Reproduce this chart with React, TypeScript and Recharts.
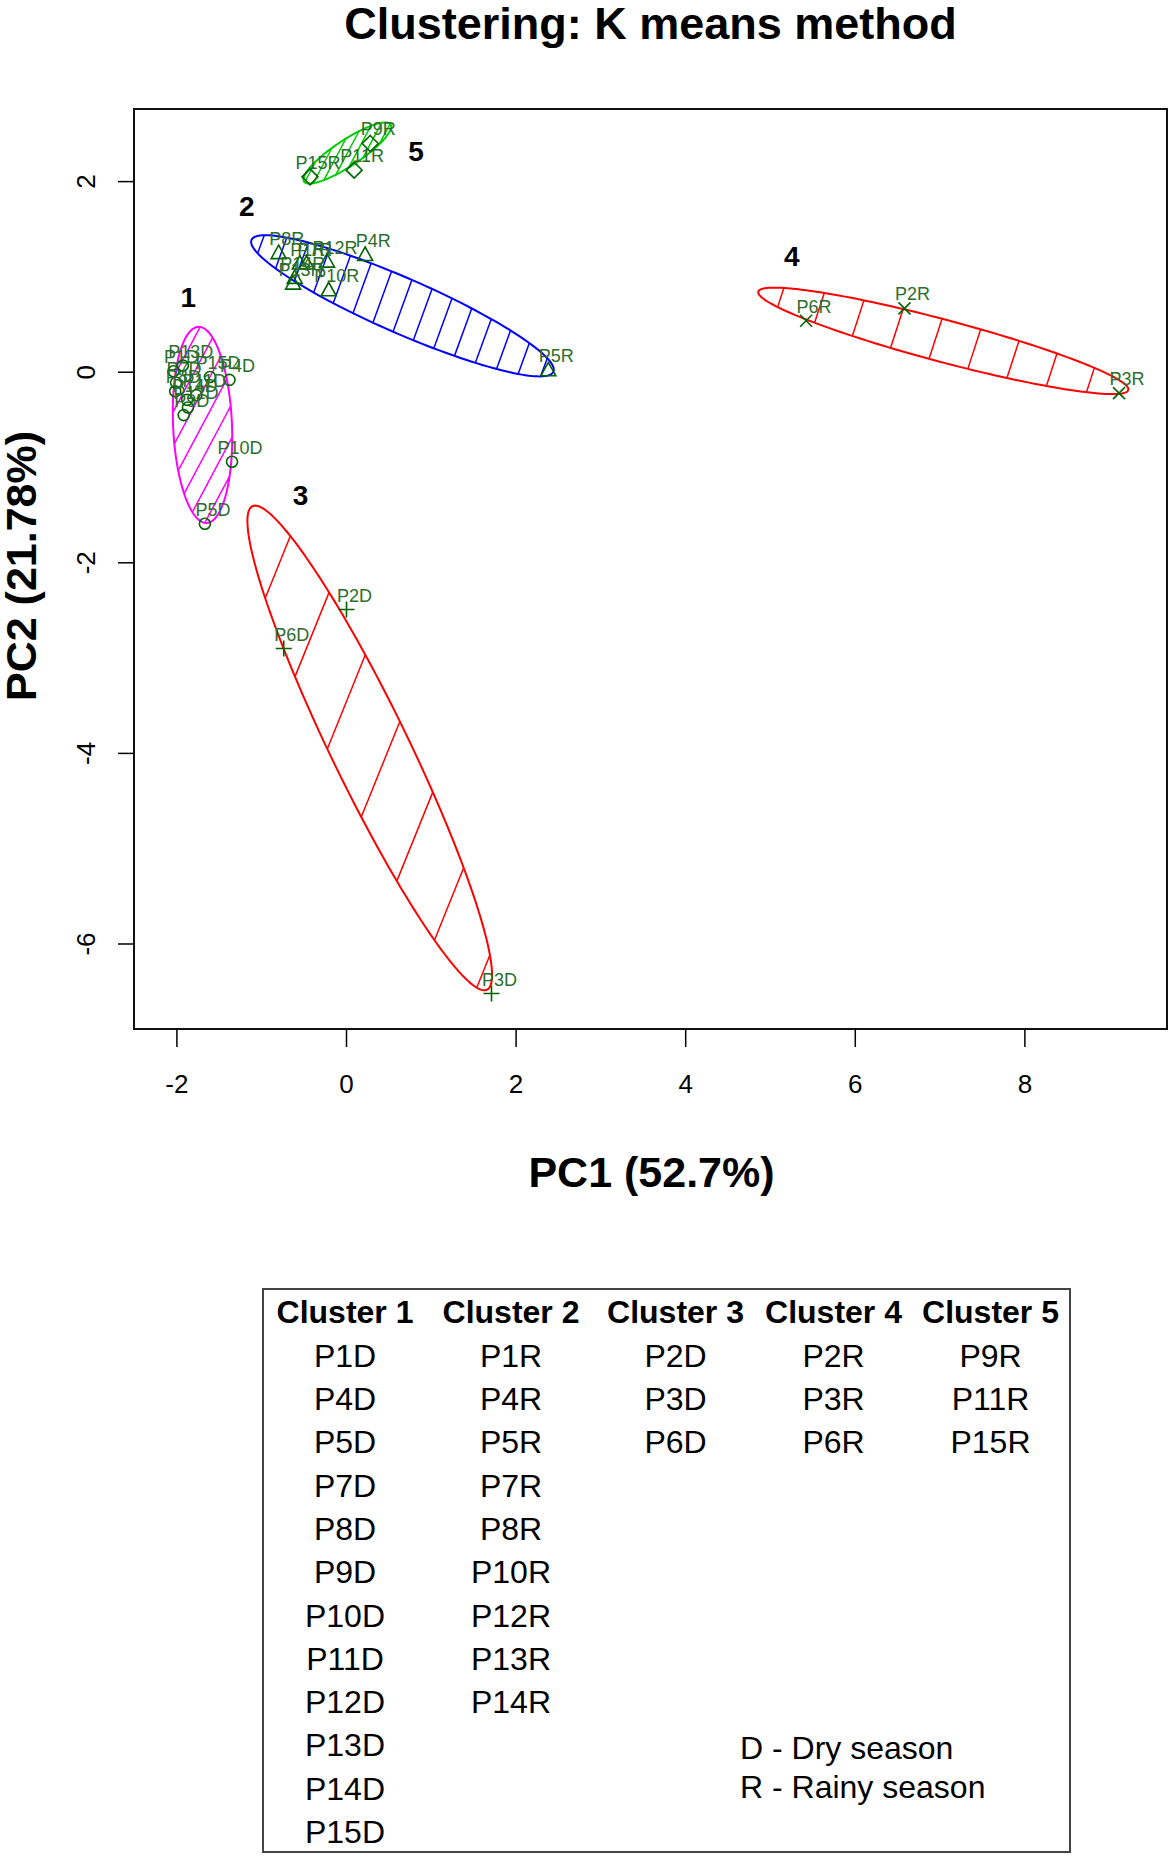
import React from "react";
import { ReferenceArea, ReferenceLine, Scatter, ScatterChart, XAxis, YAxis } from "recharts";

const FONT = "'Liberation Sans', Arial, Helvetica, sans-serif";

const xTicks = [-2, 0, 2, 4, 6, 8];
const yTicks = [-6, -4, -2, 0, 2];
const xDomain: [number, number] = [-2.506, 9.676];
const yDomain: [number, number] = [-6.892, 2.762];

type Pt = { name: string; x: number; y: number };

const cluster1: Pt[] = [
  { name: "P1D", x: -2.04, y: 0.01 },
  { name: "P7D", x: -2.01, y: -0.11 },
  { name: "P13D", x: -1.93, y: 0.07 },
  { name: "P15D", x: -1.61, y: -0.05 },
  { name: "P4D", x: -1.38, y: -0.08 },
  { name: "P8D", x: -2.02, y: -0.2 },
  { name: "P11D", x: -1.77, y: -0.24 },
  { name: "P14D", x: -1.88, y: -0.29 },
  { name: "P12D", x: -1.87, y: -0.37 },
  { name: "P9D", x: -1.92, y: -0.45 },
  { name: "P10D", x: -1.35, y: -0.94 },
  { name: "P5D", x: -1.67, y: -1.59 },
];
const cluster2: Pt[] = [
  { name: "P8R", x: -0.8, y: 1.25 },
  { name: "P1R", x: -0.55, y: 1.14 },
  { name: "P7R", x: -0.47, y: 1.14 },
  { name: "P12R", x: -0.23, y: 1.16 },
  { name: "P14R", x: -0.61, y: 0.99 },
  { name: "P13R", x: -0.63, y: 0.93 },
  { name: "P10R", x: -0.21, y: 0.86 },
  { name: "P4R", x: 0.22, y: 1.23 },
  { name: "P5R", x: 2.38, y: 0.02 },
];
const cluster3: Pt[] = [
  { name: "P2D", x: 0.0, y: -2.49 },
  { name: "P6D", x: -0.74, y: -2.9 },
  { name: "P3D", x: 1.71, y: -6.52 },
];
const cluster4: Pt[] = [
  { name: "P6R", x: 5.42, y: 0.54 },
  { name: "P2R", x: 6.58, y: 0.67 },
  { name: "P3R", x: 9.11, y: -0.22 },
];
const cluster5: Pt[] = [
  { name: "P15R", x: -0.43, y: 2.05 },
  { name: "P11R", x: 0.09, y: 2.12 },
  { name: "P9R", x: 0.28, y: 2.4 },
];
const clusterPoints = [cluster1, cluster2, cluster3, cluster4, cluster5];
const clusterNames = ["Cluster 1", "Cluster 2", "Cluster 3", "Cluster 4", "Cluster 5"];

const clusterTags = [
  { tag: "1", x: -1.866, y: 0.786 },
  { tag: "2", x: -1.177, y: 1.744 },
  { tag: "3", x: -0.541, y: -1.294 },
  { tag: "4", x: 5.25, y: 1.219 },
  { tag: "5", x: 0.82, y: 2.314 },
];

// spanning ellipses: centre and one end of the long axis (PC units), width as share of the length
const ellipseCentres = [[-1.698, -0.553], [0.66, 0.697], [0.274, -3.943], [7.038, 0.329], [0.01, 2.3]];
const ellipseEnds = [[-1.649, -1.582], [2.44, 0.005], [1.657, -6.48], [9.22, -0.187], [0.52, 2.6]];
const ellipseWidths = [0.3, 0.167, 0.144, 0.11, 0.25];

const clusterColors = ["#ff00ff", "#0000ff", "#ff0000", "#ff0000", "#00cc00"];
const markers = ["circle", "triangle", "plus", "cross", "diamond"];
// shading lines: angle on screen (deg), gap and shift (px)
const hatchAngles = [62, 70, 68, 72, 62];
const hatchGaps = [16, 22, 57, 40, 8];
const hatchShifts = [0, 0, 18, -8, 0];

const legendNotes = ["D - Dry season", "R - Rainy season"];

const CHART_W = 1171;
const CHART_H = 1230;
const TOP = 109;
const RIGHT = 4;
const Y_AXIS_W = 134;
const X_AXIS_H = 201;
const kx = (CHART_W - RIGHT - Y_AXIS_W) / (xDomain[1] - xDomain[0]);
const ky = (CHART_H - TOP - X_AXIS_H) / (yDomain[1] - yDomain[0]);

const POINT_COL = "#006400";
const LABEL_COL = "#2b6e2b";

function ellipseShape(i: number) {
  const [cx, cy] = ellipseCentres[i];
  const [ex, ey] = ellipseEnds[i];
  const ax = (ex - cx) * kx;
  const ay = -(ey - cy) * ky;
  const bx = -ay * ellipseWidths[i];
  const by = ax * ellipseWidths[i];
  const toData = (sx: number, sy: number) => ({ x: cx + sx / kx, y: cy - sy / ky });

  const outline: { x: number; y: number }[] = [];
  const steps = 160;
  for (let k = 0; k <= steps; k++) {
    const t = (2 * Math.PI * k) / steps;
    outline.push(toData(ax * Math.cos(t) + bx * Math.sin(t), ay * Math.cos(t) + by * Math.sin(t)));
  }

  const th = (hatchAngles[i] * Math.PI) / 180;
  const nx = Math.sin(th);
  const ny = Math.cos(th);
  const nA = nx * ax + ny * ay;
  const nB = nx * bx + ny * by;
  const r = Math.hypot(nA, nB);
  const phi = Math.atan2(nB, nA);
  const gap = hatchGaps[i];
  const hatch: { x: number; y: number }[][] = [];
  const kMin = Math.ceil((-r - hatchShifts[i]) / gap);
  const kMax = Math.floor((r - hatchShifts[i]) / gap);
  for (let k = kMin; k <= kMax; k++) {
    const o = k * gap + hatchShifts[i];
    if (Math.abs(o) >= r) continue;
    const d = Math.acos(o / r);
    const ends = [phi + d, phi - d].map((t) =>
      toData(ax * Math.cos(t) + bx * Math.sin(t), ay * Math.cos(t) + by * Math.sin(t))
    );
    hatch.push(ends);
  }
  return { outline, hatch };
}

const ellipses = ellipseCentres.map((_, i) => ellipseShape(i));

function markerShape(kind: string) {
  return (props: any) => {
    const { cx, cy, payload } = props;
    const s = { stroke: POINT_COL, strokeWidth: 1.6, fill: "none" };
    let mark: React.ReactNode = null;
    if (kind === "circle") mark = <circle cx={cx} cy={cy} r={5.5} {...s} />;
    if (kind === "triangle")
      mark = <polygon points={`${cx},${cy - 8} ${cx - 7.5},${cy + 5.5} ${cx + 7.5},${cy + 5.5}`} {...s} />;
    if (kind === "plus")
      mark = <path d={`M${cx - 8},${cy}H${cx + 8}M${cx},${cy - 8}V${cy + 8}`} {...s} />;
    if (kind === "cross")
      mark = (
        <path d={`M${cx - 6},${cy - 6}L${cx + 6},${cy + 6}M${cx - 6},${cy + 6}L${cx + 6},${cy - 6}`} {...s} />
      );
    if (kind === "diamond")
      mark = <polygon points={`${cx},${cy - 8} ${cx + 8},${cy} ${cx},${cy + 8} ${cx - 8},${cy}`} {...s} />;
    return (
      <g>
        {mark}
        <text x={cx + 8} y={cy - 8} textAnchor="middle" fontSize={18} fontFamily={FONT} fill={LABEL_COL}>
          {payload.name}
        </text>
      </g>
    );
  };
}

const tagShape = (props: any) => (
  <text
    x={props.cx}
    y={props.cy}
    textAnchor="middle"
    dominantBaseline="central"
    fontSize={28}
    fontWeight="bold"
    fontFamily={FONT}
    fill="#000"
  >
    {props.payload.tag}
  </text>
);

const YTick = (props: any) => {
  const { x, y, payload } = props;
  return (
    <text
      x={x}
      y={y}
      transform={`rotate(-90 ${x} ${y})`}
      textAnchor="middle"
      fontSize={26}
      fontFamily={FONT}
      fill="#000"
    >
      {payload.value}
    </text>
  );
};

const sortByNumber = (a: Pt, b: Pt) => parseInt(a.name.slice(1)) - parseInt(b.name.slice(1));
const tableColumns = clusterPoints.map((pts) => [...pts].sort(sortByNumber).map((p) => p.name));
const colCentres = [345, 511, 675.5, 833.5, 990.5];

export default function App() {
  return (
    <div style={{ position: "absolute", left: 0, top: 0, width: 1171, height: 1858, background: "#fff" }}>
      <ScatterChart width={CHART_W} height={CHART_H} margin={{ top: TOP, right: RIGHT, bottom: 0, left: 0 }}>
        <XAxis
          type="number"
          dataKey="x"
          domain={xDomain}
          ticks={xTicks}
          allowDataOverflow
          axisLine={false}
          tickSize={18}
          tickMargin={28}
          height={X_AXIS_H}
          tickLine={{ stroke: "#000", strokeWidth: 1.5 }}
          tick={{ fill: "#000", fontSize: 26, fontFamily: FONT }}
        />
        <YAxis
          type="number"
          dataKey="y"
          domain={yDomain}
          ticks={yTicks}
          allowDataOverflow
          axisLine={false}
          tickSize={16}
          tickMargin={23}
          width={Y_AXIS_W}
          tickLine={{ stroke: "#000", strokeWidth: 1.5 }}
          tick={<YTick />}
        />
        {ellipses.map((e, i) => (
          <Scatter
            key={`ell${i}`}
            data={e.outline}
            line={{ stroke: clusterColors[i], strokeWidth: 2 }}
            shape={() => <g />}
            isAnimationActive={false}
          />
        ))}
        {ellipses.map((e, i) =>
          e.hatch.map((seg, j) => (
            <ReferenceLine
              key={`h${i}-${j}`}
              segment={seg}
              stroke={clusterColors[i]}
              strokeWidth={1.5}
              ifOverflow="visible"
            />
          ))
        )}
        {clusterPoints.map((pts, i) => (
          <Scatter key={`pts${i}`} data={pts} shape={markerShape(markers[i])} isAnimationActive={false} />
        ))}
        <Scatter data={clusterTags} shape={tagShape} isAnimationActive={false} />
        <ReferenceArea
          x1={xDomain[0]}
          x2={xDomain[1]}
          y1={yDomain[0]}
          y2={yDomain[1]}
          fill="none"
          stroke="#111"
          strokeWidth={2}
          ifOverflow="visible"
        />
      </ScatterChart>

      <svg
        width={1171}
        height={1858}
        style={{ position: "absolute", left: 0, top: 0, pointerEvents: "none" }}
        fontFamily={FONT}
      >
        <text x={650.5} y={39} textAnchor="middle" fontSize={45} fontWeight="bold">
          Clustering: K means method
        </text>
        <text x={651.5} y={1187} textAnchor="middle" fontSize={43} fontWeight="bold">
          PC1 (52.7%)
        </text>
        <text x={36} y={566} transform="rotate(-90 36 566)" textAnchor="middle" fontSize={43} fontWeight="bold">
          PC2 (21.78%)
        </text>

        <rect x={263} y={1289} width={807} height={563} fill="none" stroke="#444" strokeWidth={2} />
        {clusterNames.map((n, i) => (
          <text key={n} x={colCentres[i]} y={1323} textAnchor="middle" fontSize={32} fontWeight="bold">
            {n}
          </text>
        ))}
        {tableColumns.map((col, i) =>
          col.map((name, j) => (
            <text key={name} x={colCentres[i]} y={1366.7 + j * 43.3} textAnchor="middle" fontSize={32}>
              {name}
            </text>
          ))
        )}
        {legendNotes.map((t, i) => (
          <text key={t} x={740} y={1759 + i * 38.5} fontSize={32}>
            {t}
          </text>
        ))}
      </svg>
    </div>
  );
}
